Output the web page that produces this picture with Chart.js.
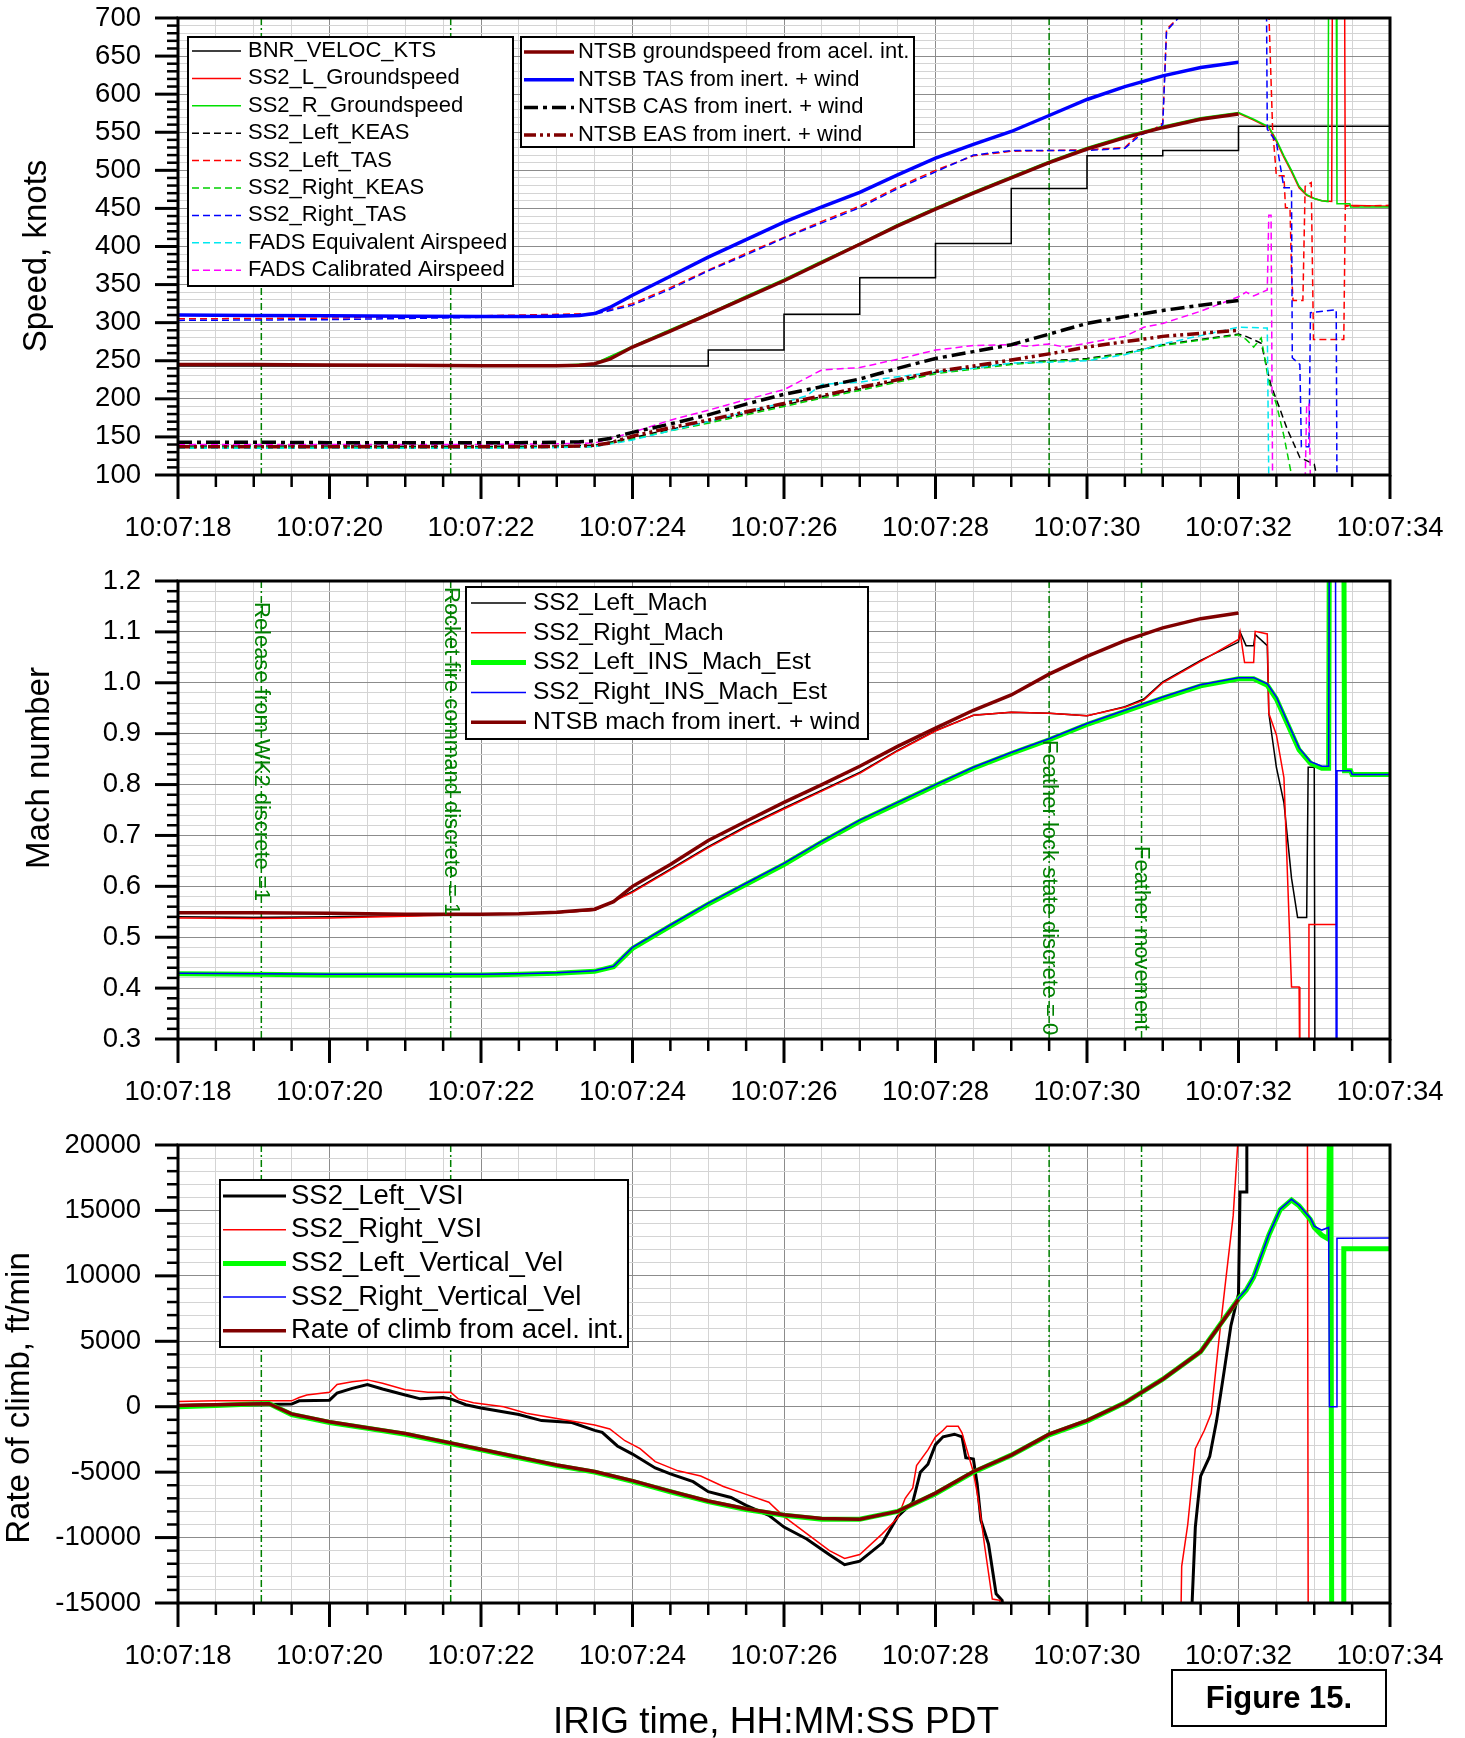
<!DOCTYPE html>
<html>
<head>
<meta charset="utf-8">
<script src="https://cdn.jsdelivr.net/npm/chart.js@4.4.1/dist/chart.umd.min.js"></script>
<style>
  body { margin: 0; background: #fff; width: 1465px; height: 1738px; position: relative; overflow: hidden; }
  canvas { position: absolute; left: 0; }
</style>
</head>
<body>
<canvas id="speed" width="1465" height="560" style="top:0;width:1465px;height:560px"></canvas>
<canvas id="mach" width="1465" height="560" style="top:560px;width:1465px;height:560px"></canvas>
<canvas id="climb" width="1465" height="618" style="top:1120px;width:1465px;height:618px"></canvas>
<script>
// event markers (seconds after 10:07:00)
const eventTimes = [19.1, 21.6, 29.5, 30.72];
const eventLabels = ['Release from WK2 discrete =1', 'Rocket fire command discrete = 1',
  'Feather lock state discrete = 0', 'Feather movement'];
const xTitle = 'IRIG time, HH:MM:SS PDT';
const figureLabel = 'Figure 15.';

// ---- speed panel ----
const bnrTime = [18, 25, 26, 27, 28, 29, 30, 31, 32, 34];
const bnrKts = [243, 264, 311, 359, 404, 476, 519, 526, 558, 558];

const gsLeftTime = [18, 20, 22, 23, 23.5, 24, 24.5, 25, 25.5, 26, 26.5, 27, 27.5, 28, 28.5, 29, 29.5, 30, 30.5, 31,
  31.5, 32, 32.2, 32.4, 32.5, 32.6, 32.7, 32.8, 32.9, 33, 33.1, 33.23, 33.24, 33.4, 33.41, 34];
const gsLeft = [245, 244, 243, 243.5, 246, 268, 290, 311, 334, 356, 380, 403, 428, 450, 471, 491, 511, 529, 544, 557,
  568, 575, 566, 556, 538, 517, 498, 477, 467, 463, 460, 459, 760, 760, 454, 453];
const gsRightTime = [18, 20, 22, 23, 23.5, 24, 24.5, 25, 25.5, 26, 26.5, 27, 27.5, 28, 28.5, 29, 29.5, 30, 30.5, 31,
  31.5, 32, 32.2, 32.4, 32.5, 32.6, 32.7, 32.8, 32.9, 33, 33.1, 33.18, 33.19, 33.29, 33.3, 33.47, 33.48, 34];
const gsRight = [245.5, 244.5, 243.5, 244, 246.5, 269, 291, 312, 335, 357, 381, 404, 429, 451, 472, 492, 512, 530, 545, 558,
  569, 576, 567, 557, 540, 519, 500, 479, 468, 463, 460, 459, 760, 760, 456, 456, 452, 452];

const keasLeftTime = [18, 20, 22, 23, 23.5, 24, 24.5, 25, 25.5, 26, 26.5, 27, 27.5, 28, 28.5, 29, 29.5, 30, 30.5, 31,
  31.5, 32, 32.1, 32.3, 32.43, 32.52, 32.64, 32.81, 33.0, 33.05];
const keasLeft = [138, 138, 137.5, 138, 139, 149, 160, 170, 181, 192, 203, 213, 224, 235, 241, 246, 250, 253, 260, 271,
  278, 285, 282, 273, 217, 194, 161, 123, 114, 90];
const keasRightTime = [18, 20, 22, 23, 23.5, 24, 24.5, 25, 25.5, 26, 26.5, 27, 27.5, 28, 28.5, 29, 29.5, 30, 30.5, 31,
  31.5, 32, 32.1, 32.2, 32.3, 32.4, 32.5, 32.6, 32.7, 32.75];
const keasRight = [136, 136, 136, 136.5, 137.5, 147, 158, 168, 179, 190, 201, 211, 222, 233, 239, 245, 249, 252, 259, 270,
  277, 284, 278, 268, 280, 222, 193, 151, 100, 90];

const tasLeftTime = [18, 20, 22, 23, 23.5, 24, 24.5, 25, 25.5, 26, 26.5, 27, 27.5, 28, 28.5, 29, 29.5, 30, 30.5, 30.7,
  30.9, 31, 31.05, 31.3, 32.4, 32.45, 32.5, 32.6, 32.62, 32.68, 32.7, 32.72, 32.85, 32.88, 32.96, 32.99, 33.39, 33.41, 34];
const tasLeft = [305, 306, 309, 311, 312, 325, 346, 369, 391, 412, 433, 453, 478, 500, 519, 525, 526, 527, 530, 549,
  555, 562, 685, 710, 710, 555, 493, 493, 451, 451, 366, 329, 329, 479, 484, 278, 278, 453, 454];
const tasRightTime = [18, 20, 22, 23, 23.5, 24, 24.5, 25, 25.5, 26, 26.5, 27, 27.5, 28, 28.5, 29, 29.5, 30, 30.5, 30.7,
  30.9, 31, 31.05, 31.3, 32.37, 32.38, 32.5, 32.6, 32.7, 32.71, 32.81, 32.83, 32.93, 32.95, 33.29, 33.3];
const tasRight = [303, 304, 307, 310, 311, 323, 344, 368, 389, 411, 431, 451, 476, 498, 520, 526, 526, 526, 529, 546,
  554, 560, 683, 710, 710, 554, 537, 477, 477, 254, 245, 137, 137, 313, 317, 80];

const fadsEasTime = [18, 20, 22, 23, 23.5, 24, 24.5, 25, 25.5, 26, 26.3, 26.5, 27, 27.5, 28, 28.5, 29, 29.5, 30, 30.5,
  30.85, 31, 31.5, 32, 32.38, 32.4];
const fadsEas = [135, 135, 135, 136, 137, 146, 158, 170, 183, 195, 204, 219, 222, 229, 235, 240, 247, 248, 250, 258,
  268, 272, 283, 294, 293, 90];
const fadsCasTime = [18, 20, 22, 23, 23.5, 24, 24.5, 25, 25.5, 26, 26.5, 27, 27.5, 28, 28.5, 29, 29.2, 29.5, 29.7, 30,
  30.5, 30.75, 31, 31.5, 32, 32.1, 32.2, 32.38, 32.4, 32.43, 32.45, 32.88, 32.9, 32.93, 32.95];
const fadsCas = [140, 140, 140, 141, 142, 156, 172, 185, 199, 212, 238, 241, 252, 264, 270, 271, 269, 272, 268, 273,
  282, 294, 299, 315, 334, 340, 335, 343, 441, 441, 90, 90, 193, 193, 90];

const ntsbTime = [18, 19, 20, 21, 22, 22.5, 23, 23.3, 23.5, 23.7, 24, 24.5, 25, 25.5, 26, 26.5, 27, 27.5, 28, 28.5,
  29, 29.5, 30, 30.5, 31, 31.5, 32];
const ntsbGround = [245, 245, 244.5, 244, 243.5, 243.5, 243.5, 244, 246, 252, 268, 289, 311, 333, 355, 379, 403, 427, 449, 470,
  490, 510, 528, 543, 556, 567, 574];
const ntsbTas = [310, 309.5, 309, 308.5, 308, 308, 308.5, 309.5, 312, 320, 336, 361, 386, 409, 432, 452, 471, 494, 516, 534,
  551, 572, 593, 610, 624, 635, 642];
const ntsbCas = [143, 143, 142.5, 142.5, 142.5, 142.5, 143, 143.5, 145, 148, 156, 167, 179, 193, 206, 216, 226, 240, 253, 262,
  271, 285, 299, 308, 316, 323, 329];
const ntsbEas = [137, 137, 137, 137, 137, 137, 137.5, 138, 139, 142, 151, 162, 172, 183, 194, 204, 215, 225, 236, 243,
  251, 259, 268, 275, 282, 286, 290];

// ---- mach panel ----
const machLeftTime = [18, 19, 20, 21, 21.5, 22, 22.5, 23, 23.5, 24, 24.5, 25, 25.5, 26, 26.5, 27, 27.5, 28, 28.5, 29,
  29.5, 30, 30.5, 30.75, 31, 31.5, 32, 32.02, 32.1, 32.2, 32.22, 32.38, 32.4, 32.5, 32.6, 32.7, 32.78, 32.9, 32.92, 33.0, 33.01];
const machLeft = [0.540, 0.539, 0.540, 0.542, 0.544, 0.545, 0.546, 0.548, 0.553, 0.590, 0.634, 0.678, 0.718, 0.754, 0.789, 0.824, 0.867, 0.906, 0.936, 0.942,
  0.940, 0.935, 0.953, 0.968, 1.002, 1.044, 1.080, 1.100, 1.073, 1.073, 1.095, 1.073, 0.940, 0.834, 0.764, 0.616, 0.539, 0.539, 0.834, 0.834, 0.2];
const machRightTime = [18, 19, 20, 21, 21.5, 22, 22.5, 23, 23.5, 24, 24.5, 25, 25.5, 26, 26.5, 27, 27.5, 28, 28.5, 29,
  29.5, 30, 30.5, 30.75, 31, 31.5, 32, 32.02, 32.08, 32.2, 32.22, 32.38, 32.4, 32.5, 32.6, 32.7, 32.8, 32.81, 32.92, 32.93, 33.3];
const machRight = [0.538, 0.537, 0.538, 0.541, 0.543, 0.545, 0.546, 0.548, 0.553, 0.588, 0.632, 0.676, 0.716, 0.752, 0.787, 0.822, 0.866, 0.905, 0.936, 0.942,
  0.940, 0.935, 0.952, 0.966, 1.000, 1.042, 1.085, 1.100, 1.040, 1.040, 1.101, 1.096, 0.940, 0.898, 0.813, 0.402, 0.402, 0.2, 0.2, 0.525, 0.525];

const insTime = [18, 19, 20, 21, 22, 22.5, 23, 23.5, 23.75, 24, 24.5, 25, 25.5, 26, 26.5, 27, 27.5, 28, 28.5, 29,
  29.5, 30, 30.5, 31, 31.5, 32, 32.2, 32.38, 32.5, 32.65, 32.8, 32.95, 33.1, 33.19];
const insLeft = [0.428, 0.427, 0.426, 0.426, 0.426, 0.427, 0.429, 0.433, 0.442, 0.478, 0.522, 0.565, 0.604, 0.643, 0.687, 0.728, 0.763, 0.798, 0.832, 0.861,
  0.888, 0.918, 0.944, 0.970, 0.994, 1.008, 1.008, 0.995, 0.968, 0.918, 0.868, 0.842, 0.832, 0.832];
const insRight = [0.429, 0.428, 0.427, 0.427, 0.427, 0.428, 0.430, 0.434, 0.443, 0.480, 0.524, 0.567, 0.606, 0.645, 0.689, 0.730, 0.765, 0.800, 0.834, 0.863,
  0.890, 0.920, 0.946, 0.972, 0.996, 1.010, 1.010, 0.998, 0.972, 0.922, 0.872, 0.845, 0.836, 0.836];
const insLeftTailTime = [33.2, 33.39, 33.4, 33.48, 33.5, 34];
const insLeftTail = [1.35, 1.35, 0.827, 0.827, 0.820, 0.820];
const insRightTailTime = [33.2, 33.28, 33.29, 33.3, 33.48, 33.5, 34];
const insRightTail = [1.35, 1.35, 0.2, 0.827, 0.827, 0.820, 0.820];

const ntsbMachTime = [18, 19, 20, 21, 22, 22.5, 23, 23.5, 23.75, 24, 24.5, 25, 25.5, 26, 26.5, 27, 27.5, 28, 28.5, 29,
  29.5, 30, 30.5, 31, 31.5, 32];
const ntsbMach = [0.548, 0.548, 0.547, 0.545, 0.545, 0.546, 0.549, 0.555, 0.570, 0.600, 0.643, 0.690, 0.728, 0.765, 0.800, 0.836, 0.875, 0.911, 0.946, 0.976,
  1.017, 1.052, 1.083, 1.108, 1.126, 1.137];

// ---- rate of climb panel ----
const vsiLeftTime = [18, 18.5, 19, 19.5, 19.6, 20, 20.1, 20.3, 20.5, 20.7, 21, 21.2, 21.5, 21.6, 21.8, 22, 22.5, 22.8, 23.2, 23.5,
  23.6, 23.8, 24, 24.3, 24.5, 24.8, 25, 25.3, 25.5, 25.8, 26, 26.3, 26.6, 26.8, 27, 27.3, 27.5, 27.7, 27.8, 27.9,
  28, 28.1, 28.25, 28.35, 28.4, 28.5, 28.55, 28.6, 28.7, 28.8, 28.88, 28.9, 31.38, 31.43, 31.5, 31.62, 31.71, 31.81, 31.9, 32,
  32.02, 32.1, 32.11];
const vsiLeft = [100, 150, 150, 200, 450, 500, 1050, 1400, 1700, 1350, 900, 600, 700, 600, 150, -100, -600, -1060, -1210, -1810,
  -1960, -3000, -3620, -4680, -5130, -5730, -6490, -6940, -7540, -8300, -9200, -10110, -11320, -12070, -11800, -10400, -8400, -7300, -5000, -4400,
  -2900, -2300, -2100, -2300, -3900, -4000, -5900, -8700, -10500, -14300, -14800, -16000, -16000, -9200, -5300, -3800, -1100, 2700, 6200, 8600,
  16400, 16400, 21000];
const vsiRightTime = [18, 18.5, 19, 19.5, 19.6, 19.7, 20, 20.1, 20.3, 20.5, 20.7, 21, 21.3, 21.6, 21.7, 21.9, 22.3, 22.6, 23, 23.5,
  23.7, 23.9, 24.1, 24.3, 24.6, 24.9, 25.2, 25.5, 25.8, 26, 26.3, 26.6, 26.8, 27, 27.3, 27.5, 27.6, 27.7, 27.75, 27.9,
  28, 28.1, 28.15, 28.3, 28.35, 28.4, 28.5, 28.55, 28.6, 28.65, 28.75, 28.85, 28.86, 31.24, 31.25, 31.33, 31.43, 31.55, 31.64, 31.74,
  31.83, 31.93, 32, 32.91, 32.92];
const vsiRight = [400, 450, 450, 450, 700, 900, 1100, 1700, 1900, 2050, 1800, 1300, 1100, 1100, 600, 300, 0, -500, -900, -1400,
  -1700, -2600, -3200, -4200, -4900, -5300, -6100, -6700, -7300, -8400, -9700, -11000, -11600, -11300, -9700, -8500, -7000, -6200, -4500, -3300,
  -2300, -1800, -1500, -1500, -2000, -3000, -5000, -6600, -8500, -10700, -14700, -14800, -16000, -16000, -12200, -9000, -3200, -1800, -500, 5000,
  9600, 14600, 21000, 21000, -16000];

const vvTime = [18, 18.5, 19, 19.2, 19.5, 20, 20.5, 21, 21.5, 22, 22.5, 23, 23.5, 24, 24.5, 25, 25.5, 26, 26.5, 27,
  27.5, 28, 28.5, 29, 29.5, 30, 30.5, 31, 31.5, 32, 32.1, 32.2, 32.4, 32.55, 32.7, 32.8, 32.95, 33, 33.1, 33.19];
const vvLeft = [0, 100, 200, 250, -600, -1200, -1650, -2100, -2700, -3300, -3900, -4500, -5000, -5700, -6500, -7250, -7850, -8300, -8600, -8600,
  -8000, -6650, -5000, -3700, -2150, -1100, 300, 2100, 4200, 8250, 8900, 9900, 13100, 15050, 15800, 15350, 14300, 13700, 13100, 12800];
const vvRight = [50, 150, 250, 280, -580, -1180, -1620, -2080, -2680, -3280, -3880, -4480, -4980, -5680, -6480, -7230, -7830, -8280, -8580, -8580,
  -7980, -6630, -4980, -3680, -2130, -1080, 320, 2120, 4230, 8300, 8950, 9950, 13150, 15100, 15850, 15400, 14400, 13800, 13500, 13700];
const vvLeftTailTime = [33.2, 33.22, 33.23, 33.38, 33.39, 34];
const vvLeftTail = [21000, 21000, -16000, -16000, 12070, 12070];
const vvRightTailTime = [33.2, 33.29, 33.3, 34];
const vvRightTail = [0, 0, 12880, 12900];

const rocTime = [18, 18.5, 19, 19.2, 19.5, 20, 20.5, 21, 21.5, 22, 22.5, 23, 23.5, 24, 24.5, 25, 25.5, 26, 26.5, 27,
  27.5, 28, 28.5, 29, 29.5, 30, 30.5, 31, 31.5, 32];
const roc = [100, 150, 200, 230, -550, -1150, -1600, -2050, -2650, -3250, -3850, -4450, -4950, -5650, -6450, -7200, -7800, -8250, -8550, -8600,
  -8000, -6600, -4950, -3700, -2100, -1050, 300, 2100, 4200, 8200];

const FONT = '"Liberation Sans", Arial, sans-serif';
Chart.defaults.font.family = FONT;
Chart.defaults.color = '#000';

const MAJOR_GRID = '#8c8c8c';
const MINOR_GRID = '#d4d4d4';
const DASH = [7, 4];

function isMajor(v, step) {
  return Math.abs(v / step - Math.round(v / step)) < 1e-6;
}

function series(label, xs, ys, color, width, dash, extra) {
  return Object.assign({
    label: label,
    data: xs.map((x, i) => ({ x: x, y: ys[i] })),
    borderColor: color,
    borderWidth: width,
    borderDash: dash || [],
    pointRadius: 0,
    fill: false,
    clip: 0
  }, extra || {});
}

// panel decoration: legends, titles, notes (pixel layout, not data)
const panels = {
  speed: {
    title: { text: 'Speed, knots', x: 37, y: 256 },
    yStep: 50,
    legends: [
      { x: 188, y: 37, w: 325, h: 249, row0: 51, rowH: 27.4, s0: 192, s1: 241, tx: 248, size: 22, items: [0, 1, 2, 3, 4, 5, 6, 7, 8] },
      { x: 521, y: 37, w: 393, h: 110, row0: 52, rowH: 27.7, s0: 524, s1: 574, tx: 578, size: 22, items: [9, 10, 11, 12] }
    ]
  },
  mach: {
    title: { text: 'Mach number', x: 40, y: 208 },
    yStep: 0.1,
    legends: [
      { x: 466, y: 27, w: 402, h: 152, row0: 43, rowH: 29.8, s0: 471, s1: 526, tx: 533, size: 24.5, items: [0, 1, 2, 3, 4] }
    ],
    notes: [42, 27, 180, 286]
  },
  climb: {
    title: { text: 'Rate of climb, ft/min', x: 20, y: 278 },
    yStep: 5000,
    legends: [
      { x: 220, y: 60, w: 408, h: 167, row0: 76, rowH: 33.7, s0: 223, s1: 286, tx: 291, size: 27.5, items: [0, 1, 2, 3, 4] }
    ],
    footer: true
  }
};

function drawLegend(chart, box) {
  const ctx = chart.ctx;
  ctx.save();
  ctx.fillStyle = '#fff';
  ctx.fillRect(box.x, box.y, box.w, box.h);
  ctx.strokeStyle = '#000';
  ctx.lineWidth = 2;
  ctx.setLineDash([]);
  ctx.strokeRect(box.x, box.y, box.w, box.h);
  ctx.font = box.size + 'px ' + FONT;
  ctx.textBaseline = 'middle';
  ctx.textAlign = 'left';
  box.items.forEach((di, i) => {
    const ds = chart.data.datasets[di];
    const cy = box.row0 + i * box.rowH;
    ctx.strokeStyle = ds.borderColor;
    ctx.lineWidth = ds.borderWidth;
    ctx.setLineDash(ds.borderDash || []);
    ctx.beginPath();
    ctx.moveTo(box.s0, cy);
    ctx.lineTo(box.s1, cy);
    ctx.stroke();
    ctx.fillStyle = '#000';
    ctx.fillText(ds.label, box.tx, cy);
  });
  ctx.restore();
}

const panelPlugin = {
  id: 'panel',
  beforeDatasetsDraw(chart) {
    const { ctx, chartArea: a, scales: { x } } = chart;
    ctx.save();
    ctx.strokeStyle = '#008000';
    ctx.lineWidth = 1.5;
    ctx.setLineDash([7, 3, 2, 3]);
    eventTimes.forEach(t => {
      const px = x.getPixelForValue(t);
      ctx.beginPath();
      ctx.moveTo(px, a.top);
      ctx.lineTo(px, a.bottom);
      ctx.stroke();
    });
    ctx.restore();
  },
  afterDraw(chart) {
    const p = panels[chart.canvas.id];
    const { ctx, chartArea: a, scales: { x, y } } = chart;
    ctx.save();

    if (p.notes) {
      ctx.fillStyle = '#008000';
      ctx.font = '22px ' + FONT;
      ctx.textAlign = 'left';
      ctx.textBaseline = 'middle';
      eventTimes.forEach((t, i) => {
        ctx.save();
        ctx.translate(x.getPixelForValue(t), p.notes[i]);
        ctx.rotate(Math.PI / 2);
        ctx.fillText(eventLabels[i], 0, 0);
        ctx.restore();
      });
    }

    p.legends.forEach(box => drawLegend(chart, box));

    // frame
    ctx.setLineDash([]);
    ctx.strokeStyle = '#000';
    ctx.lineWidth = 3;
    ctx.strokeRect(a.left, a.top, a.right - a.left, a.bottom - a.top);

    // tick marks
    y.ticks.forEach(t => {
      const py = y.getPixelForValue(t.value);
      const major = isMajor(t.value, p.yStep);
      ctx.lineWidth = major ? 3 : 2.5;
      ctx.beginPath();
      ctx.moveTo(a.left - (major ? 23 : 11), py);
      ctx.lineTo(a.left, py);
      ctx.stroke();
    });
    x.ticks.forEach(t => {
      const px = x.getPixelForValue(t.value);
      const major = isMajor(t.value, 2);
      ctx.lineWidth = major ? 3 : 2.5;
      ctx.beginPath();
      ctx.moveTo(px, a.bottom);
      ctx.lineTo(px, a.bottom + (major ? 24 : 12));
      ctx.stroke();
    });

    // y title
    ctx.fillStyle = '#000';
    ctx.font = '33px ' + FONT;
    ctx.textAlign = 'center';
    ctx.textBaseline = 'middle';
    ctx.save();
    ctx.translate(p.title.x, p.title.y);
    ctx.rotate(-Math.PI / 2);
    ctx.fillText(p.title.text, 0, 0);
    ctx.restore();

    if (p.footer) {
      ctx.font = '37px ' + FONT;
      ctx.textBaseline = 'alphabetic';
      ctx.fillText(xTitle, 776, 613);
      ctx.lineWidth = 2;
      ctx.strokeRect(1172, 550, 214, 56);
      ctx.font = 'bold 31px ' + FONT;
      ctx.textBaseline = 'middle';
      ctx.fillText(figureLabel, 1279, 579);
    }
    ctx.restore();
  }
};

function makeChart(id, datasets, yOpts, areaTop, areaBottom, height) {
  datasets.forEach((d, i) => { d.order = -i; });
  const yStep = panels[id].yStep;
  return new Chart(document.getElementById(id), {
    type: 'line',
    data: { datasets: datasets },
    options: {
      responsive: false,
      animation: false,
      devicePixelRatio: 1,
      events: [],
      layout: { padding: { top: areaTop, right: 75, left: 0, bottom: 0 } },
      elements: { point: { radius: 0 }, line: { tension: 0 } },
      plugins: { legend: { display: false }, tooltip: { enabled: false } },
      scales: {
        x: {
          type: 'linear',
          min: 18,
          max: 34,
          afterFit: s => {
            s.height = height - areaBottom;
            s.paddingLeft = 0;
            s.paddingRight = 0;
          },
          ticks: {
            stepSize: 0.5,
            autoSkip: false,
            maxRotation: 0,
            padding: 37,
            font: { size: 27.5 },
            color: '#000',
            callback: v => isMajor(v, 2) ? '10:07:' + String(Math.round(v)).padStart(2, '0') : ''
          },
          grid: {
            drawTicks: false,
            lineWidth: 1,
            color: c => (c.tick && isMajor(c.tick.value, 2)) ? MAJOR_GRID : MINOR_GRID
          },
          border: { display: false }
        },
        y: {
          type: 'linear',
          min: yOpts.min,
          max: yOpts.max,
          afterFit: s => {
            s.width = 178;
            s.paddingTop = 0;
            s.paddingBottom = 0;
          },
          ticks: {
            stepSize: yOpts.step,
            autoSkip: false,
            padding: 37,
            font: { size: 27.5 },
            color: '#000',
            callback: v => isMajor(v, yStep) ? yOpts.fmt(v) : ''
          },
          grid: {
            drawTicks: false,
            lineWidth: 1,
            color: c => (c.tick && isMajor(c.tick.value, yStep)) ? MAJOR_GRID : MINOR_GRID
          },
          border: { display: false }
        }
      }
    },
    plugins: [panelPlugin]
  });
}

makeChart('speed', [
  series('BNR_VELOC_KTS', bnrTime, bnrKts, '#000000', 1.5, null, { stepped: true }),
  series('SS2_L_Groundspeed', gsLeftTime, gsLeft, '#ff0000', 1.5),
  series('SS2_R_Groundspeed', gsRightTime, gsRight, '#00e000', 1.5),
  series('SS2_Left_KEAS', keasLeftTime, keasLeft, '#000000', 1.5, DASH),
  series('SS2_Left_TAS', tasLeftTime, tasLeft, '#ff0000', 1.5, DASH),
  series('SS2_Right_KEAS', keasRightTime, keasRight, '#00d000', 1.5, DASH),
  series('SS2_Right_TAS', tasRightTime, tasRight, '#0000ff', 1.5, DASH),
  series('FADS Equivalent Airspeed', fadsEasTime, fadsEas, '#00e8f0', 1.5, DASH),
  series('FADS Calibrated Airspeed', fadsCasTime, fadsCas, '#ff00ff', 1.5, DASH),
  series('NTSB groundspeed from acel. int.', ntsbTime, ntsbGround, '#800000', 3.5),
  series('NTSB TAS from inert. + wind', ntsbTime, ntsbTas, '#0000ff', 3.5),
  series('NTSB CAS from inert. + wind', ntsbTime, ntsbCas, '#000000', 3.5, [14, 5, 4, 5]),
  series('NTSB EAS from inert. + wind', ntsbTime, ntsbEas, '#800000', 3.5, [12, 4, 3, 4, 3, 4])
], { min: 100, max: 700, step: 10, fmt: v => String(Math.round(v)) }, 18, 475, 560);

makeChart('mach', [
  series('SS2_Left_Mach', machLeftTime, machLeft, '#000000', 1.5),
  series('SS2_Right_Mach', machRightTime, machRight, '#ff0000', 1.5),
  series('SS2_Left_INS_Mach_Est', insTime.concat(insLeftTailTime), insLeft.concat(insLeftTail), '#00ff00', 5),
  series('SS2_Right_INS_Mach_Est', insTime.concat(insRightTailTime), insRight.concat(insRightTail), '#0000ff', 1.5),
  series('NTSB mach from inert. + wind', ntsbMachTime, ntsbMach, '#800000', 3.5)
], { min: 0.3, max: 1.2, step: 0.02, fmt: v => v.toFixed(1) }, 21, 479, 560);

makeChart('climb', [
  series('SS2_Left_VSI', vsiLeftTime, vsiLeft, '#000000', 3),
  series('SS2_Right_VSI', vsiRightTime, vsiRight, '#ff0000', 1.5),
  series('SS2_Left_Vertical_Vel', vvTime.concat(vvLeftTailTime), vvLeft.concat(vvLeftTail), '#00ff00', 5),
  series('SS2_Right_Vertical_Vel', vvTime.concat(vvRightTailTime), vvRight.concat(vvRightTail), '#0000ff', 1.5),
  series('Rate of climb from acel. int.', rocTime, roc, '#800000', 3.5)
], { min: -15000, max: 20000, step: 1000, fmt: v => String(Math.round(v)) }, 25, 483, 618);
</script>
</body>
</html>
